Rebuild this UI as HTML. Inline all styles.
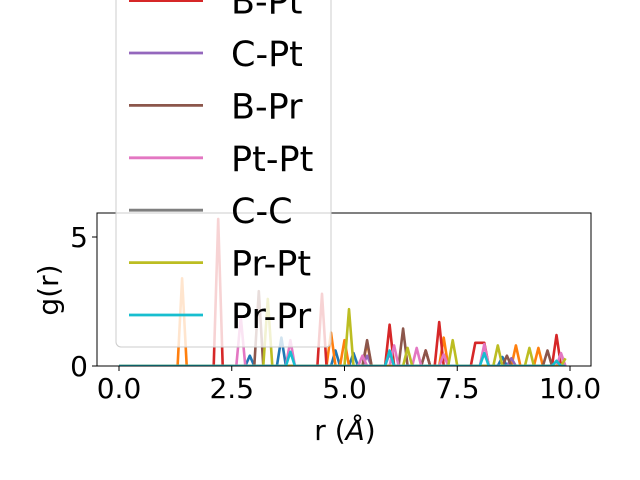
<!DOCTYPE html>
<html><head><meta charset="utf-8"><style>
html,body{margin:0;padding:0;background:#fff}
svg{display:block;font-family:"DejaVu Sans","Liberation Sans",sans-serif}
</style></head><body>
<svg id="chart" width="640" height="480" viewBox="0 0 640 480">
<defs><clipPath id="clip"><rect x="97" y="213" width="494" height="153"/></clipPath></defs>
<g id="plot" clip-path="url(#clip)"></g>
<rect x="97" y="213" width="494" height="153" fill="none" stroke="#000" stroke-width="1"/>
<g id="xticks"></g>
<g id="yticks"></g>
<text x="345" y="440" font-size="28" text-anchor="middle">r (<tspan font-style="italic">Å</tspan>)</text>
<text transform="translate(58,290) rotate(-90)" font-size="28" text-anchor="middle">g(r)</text>
<g id="legend"></g>
</svg>
<script>
const names=["B-B","B-C","C-B","B-Pt","C-Pt","B-Pr","Pt-Pt","C-C","Pr-Pt","Pr-Pr"];
const colors=["#1f77b4","#ff7f0e","#2ca02c","#d62728","#9467bd","#8c564b","#e377c2","#7f7f7f","#bcbd22","#17becf"];
const peaksBB=[[2.9,0.4],[3.6,1.1],[4.8,0.6],[5.2,0.5],[8.5,0.35]];
const peaksBC=[[1.4,3.4],[4.7,1.3],[5.0,1.0],[5.5,0.9],[7.2,1.1],[8.8,0.8],[9.3,0.7]];
const peaksCB=[];
const peaksBPt=[[2.2,5.7],[4.5,2.8],[6.0,1.6],[6.8,0.6],[7.1,1.7],[7.9,0.9],[8.0,0.9],[8.1,0.9],[9.7,1.2]];
const peaksCPt=[[5.5,0.4],[6.0,0.5],[8.7,0.3]];
const peaksBPr=[[3.1,2.9],[5.5,1.0],[6.3,1.45],[6.8,0.6],[8.6,0.4],[9.5,0.6]];
const peaksPtPt=[[2.7,1.9],[3.8,1.0],[5.4,0.4],[6.1,0.8],[6.6,0.7],[7.2,0.45],[8.1,0.85],[9.8,0.5]];
const peaksCC=[];
const peaksPrPt=[[3.3,2.6],[5.1,2.2],[6.4,0.7],[7.4,1.0],[8.4,0.8],[9.1,0.7],[9.9,0.3]];
const peaksPrPr=[[3.8,0.55],[6.0,0.6],[8.1,0.5],[9.7,0.2]];
const allPeaks=[peaksBB,peaksBC,peaksCB,peaksBPt,peaksCPt,peaksBPr,peaksPtPt,peaksCC,peaksPrPt,peaksPrPr];
const xTicks=[0,2.5,5,7.5,10];
const xTickLabels=["0.0","2.5","5.0","7.5","10.0"];
const yTicks=[0,5];
const yTickLabels=["0","5"];
const NS="http://www.w3.org/2000/svg";
const X=r=>119+r*45.1, Y=g=>366-g*25.8;
const plot=document.getElementById('plot');
allPeaks.forEach((pk,i)=>{
  const vals=new Array(100).fill(0);
  pk.forEach(p=>{vals[Math.round(p[0]*10)]=p[1];});
  const pts=vals.map((v,k)=>X(k/10).toFixed(1)+","+Y(v).toFixed(1)).join(" ");
  const pl=document.createElementNS(NS,'polyline');
  pl.setAttribute('points',pts);pl.setAttribute('fill','none');
  pl.setAttribute('stroke',colors[i]);pl.setAttribute('stroke-width','2.6');pl.setAttribute('stroke-linejoin','round');
  
  
  plot.appendChild(pl);
});
const xt=document.getElementById('xticks');
xTicks.forEach((t,i)=>{
  const l=document.createElementNS(NS,'line');
  l.setAttribute('x1',X(t));l.setAttribute('x2',X(t));l.setAttribute('y1',366);l.setAttribute('y2',371);l.setAttribute('stroke','#000');
  
  
  xt.appendChild(l);
  const tx=document.createElementNS(NS,'text');
  tx.setAttribute('x',X(t));tx.setAttribute('y',398);tx.setAttribute('font-size','28');tx.setAttribute('text-anchor','middle');
  tx.textContent=xTickLabels[i];
  
  
  xt.appendChild(tx);
});
const yt=document.getElementById('yticks');
yTicks.forEach((t,i)=>{
  const l=document.createElementNS(NS,'line');
  l.setAttribute('x1',92);l.setAttribute('x2',97);l.setAttribute('y1',Y(t));l.setAttribute('y2',Y(t));l.setAttribute('stroke','#000');
  
  
  yt.appendChild(l);
  const tx=document.createElementNS(NS,'text');
  tx.setAttribute('x',88);tx.setAttribute('y',Y(t)+10);tx.setAttribute('font-size','28');tx.setAttribute('text-anchor','end');
  tx.textContent=yTickLabels[i];
  
  
  yt.appendChild(tx);
});
const lg=document.getElementById('legend');
const box=document.createElementNS(NS,'rect');
box.setAttribute('x',116);box.setAttribute('y',-230);box.setAttribute('width',215);box.setAttribute('height',577);box.setAttribute('rx',5);
box.setAttribute('fill','rgba(255,255,255,0.8)');box.setAttribute('stroke','#cccccc');


lg.appendChild(box);
names.forEach((n,i)=>{
  const cy=315-(9-i)*52.4;
  const g=document.createElementNS(NS,'g');
  
  
  const l=document.createElementNS(NS,'line');
  l.setAttribute('x1',129);l.setAttribute('x2',203);l.setAttribute('y1',cy);l.setAttribute('y2',cy);
  l.setAttribute('stroke',colors[i]);l.setAttribute('stroke-width','2.8');
  g.appendChild(l);
  const tx=document.createElementNS(NS,'text');
  tx.setAttribute('x',231);tx.setAttribute('y',cy+13);tx.setAttribute('font-size','35');
  tx.textContent=n;
  g.appendChild(tx);
  lg.appendChild(g);
});
</script>
</body></html>
